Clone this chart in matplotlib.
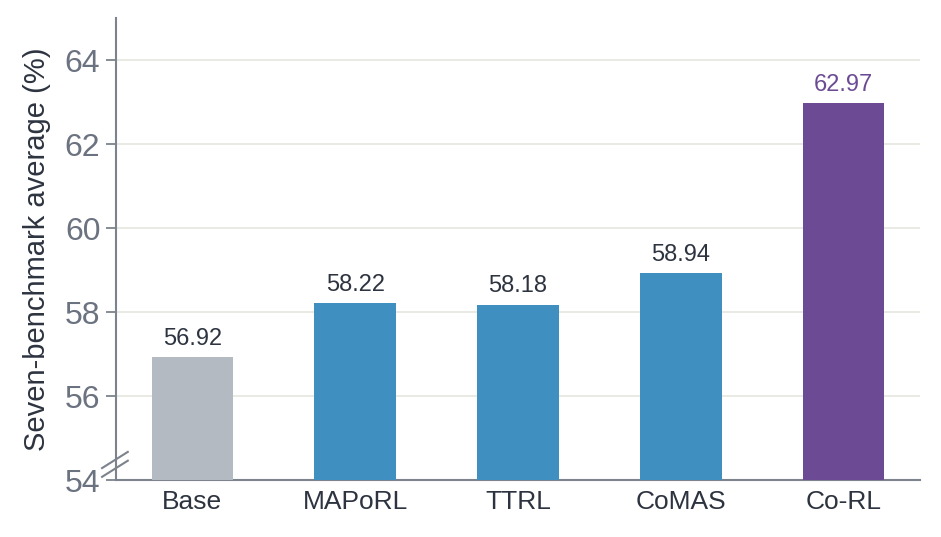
import numpy as np
import matplotlib.pyplot as plt

methods = ["Base", "MAPoRL", "TTRL", "CoMAS", "Co-RL"]
scores = [56.92, 58.22, 58.18, 58.94, 62.97]
bar_colors = ["#b4bac1", "#3f8fc0", "#3f8fc0", "#3f8fc0", "#6c4b94"]
label_colors = ["#2d3440", "#2d3440", "#2d3440", "#2d3440", "#6c4b94"]
yticks = [54, 56, 58, 60, 62, 64]

plt.rcParams['font.family'] = ['Liberation Sans', 'DejaVu Sans']

fig = plt.figure(figsize=(9.41, 5.37), dpi=100)
ax = fig.add_axes([0.123, 0.106, 0.855, 0.86])

x = np.arange(len(methods))
ax.bar(x, scores, width=0.5, color=bar_colors, zorder=3)

for xi, v, c in zip(x, scores, label_colors):
    ax.text(xi, v + 0.17, f"{v:.2f}", ha="center", va="bottom",
            fontsize=17, color=c, zorder=4)

ax.set_ylim(54, 65)
ax.set_xlim(-0.47, 4.47)
ax.set_yticks(yticks)
ax.set_xticks(x)
ax.set_xticklabels(methods, fontsize=19, color="#2d3440")
ax.tick_params(axis="y", labelsize=23, labelcolor="#6b7280", color="#7d838c",
               length=7, width=1.3, pad=4)
ax.tick_params(axis="x", length=0, pad=7)
ax.set_ylabel("Seven-benchmark average (%)", fontsize=21, color="#2d3440",
              labelpad=10)

ax.grid(axis="y", color="#e8e8e2", linewidth=1.3, zorder=0)
for s in ["top", "right"]:
    ax.spines[s].set_visible(False)
for s in ["left", "bottom"]:
    ax.spines[s].set_color("#7d838c")
    ax.spines[s].set_linewidth(1.5)

# axis break marks
kw = dict(transform=ax.transAxes, color="#7d838c", lw=1.5, clip_on=False)
for y0 in (0.007, 0.026):
    ax.plot([-0.017, 0.015], [y0, y0 + 0.035], **kw)

fig.savefig("out.png", dpi=100)
